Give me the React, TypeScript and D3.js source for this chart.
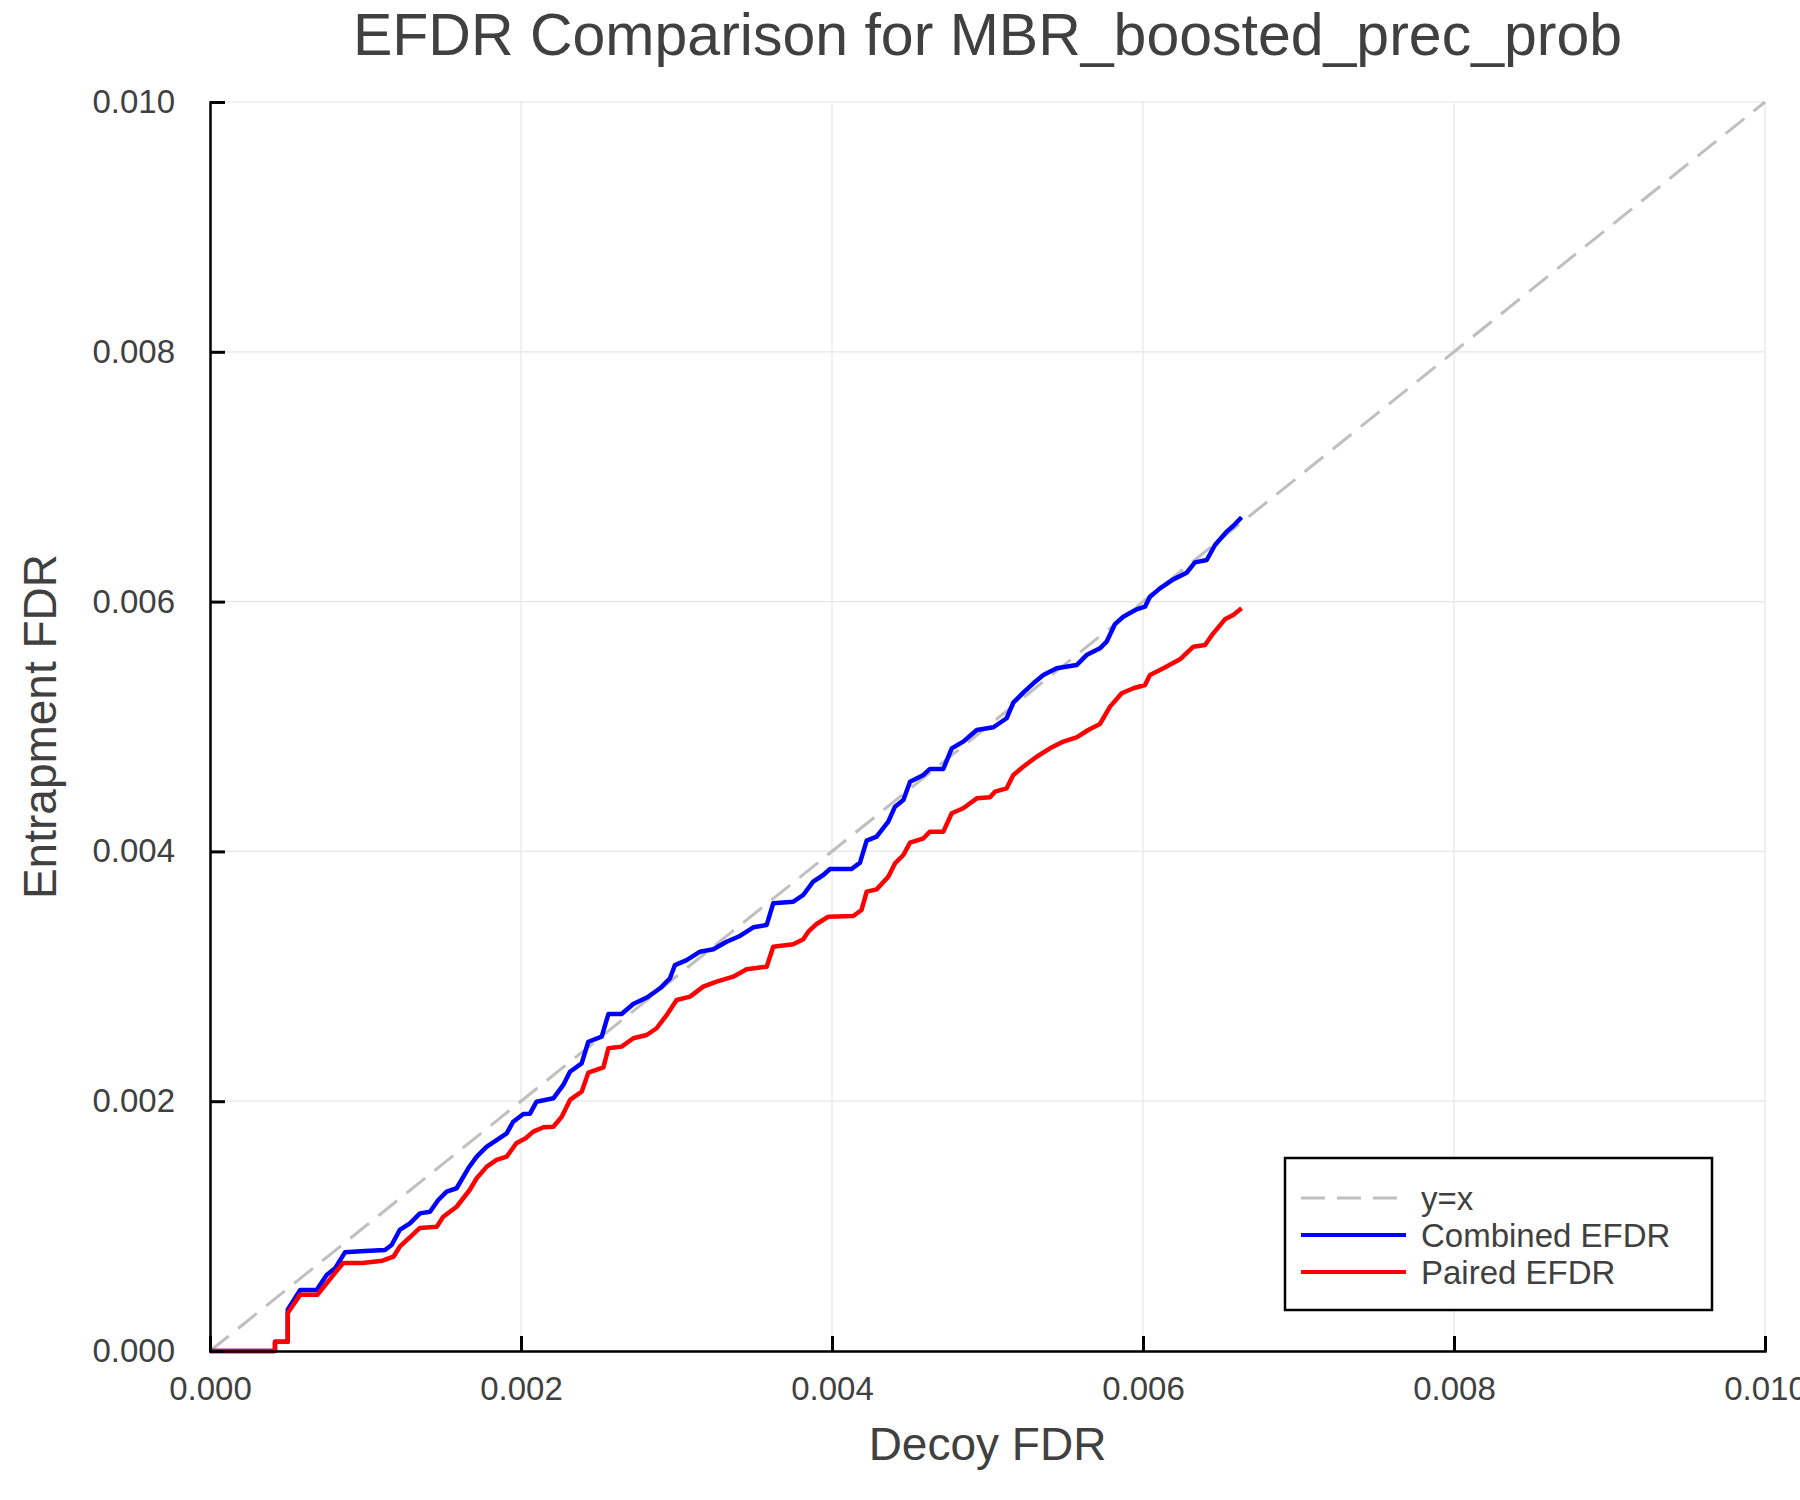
import * as d3 from "d3";
import { useEffect, useRef } from "react";

// Tick values shared by both axes
const tickValues = [0, 0.002, 0.004, 0.006, 0.008, 0.01];

// Combined EFDR curve: [decoy FDR, entrapment FDR]
const combinedEfdr: [number, number][] = [
  [0, 0], [0.000418, 0], [0.000418, 0.000075], [0.0005, 0.000075], [0.0005, 0.00033],
  [0.00058, 0.000488], [0.000686, 0.000488], [0.00075, 0.000608], [0.000804, 0.000662],
  [0.000868, 0.00079], [0.000997, 0.0008], [0.001125, 0.000809], [0.001168, 0.000849],
  [0.00122, 0.000969], [0.001286, 0.001022], [0.00135, 0.001102], [0.001415, 0.001115],
  [0.001468, 0.001209], [0.001522, 0.001276], [0.001586, 0.001303], [0.001661, 0.001463],
  [0.001715, 0.001556], [0.00178, 0.001636], [0.001843, 0.001689], [0.001908, 0.001743],
  [0.00195, 0.001836], [0.002015, 0.001897], [0.002058, 0.0019], [0.0021, 0.001996],
  [0.002208, 0.002023], [0.002272, 0.00213], [0.002315, 0.002236], [0.00239, 0.002303],
  [0.002433, 0.002476], [0.002519, 0.002517], [0.002562, 0.002698], [0.002647, 0.002698],
  [0.002722, 0.002778], [0.002819, 0.002837], [0.002894, 0.002904], [0.002958, 0.002984],
  [0.00299, 0.00309], [0.003065, 0.00313], [0.003151, 0.003197], [0.003237, 0.003216],
  [0.003322, 0.003277], [0.003408, 0.003323], [0.003494, 0.003392], [0.00358, 0.003411],
  [0.003622, 0.003584], [0.003751, 0.003597], [0.003815, 0.003651], [0.003879, 0.003758],
  [0.003944, 0.003811], [0.003987, 0.003859], [0.004126, 0.003859], [0.00418, 0.00391],
  [0.004223, 0.004086], [0.004287, 0.004118], [0.004362, 0.004238], [0.004405, 0.004358],
  [0.004459, 0.004412], [0.004502, 0.004558], [0.004588, 0.004612], [0.00463, 0.00466],
  [0.004716, 0.00466], [0.00477, 0.004825], [0.004844, 0.004879], [0.004931, 0.004972],
  [0.005038, 0.004994], [0.005123, 0.005066], [0.005166, 0.005191], [0.00523, 0.005271],
  [0.005295, 0.005346], [0.005359, 0.005412], [0.005445, 0.005466], [0.005573, 0.005492],
  [0.005637, 0.005572], [0.005723, 0.005626], [0.005766, 0.005679], [0.00582, 0.00582],
  [0.005873, 0.005879], [0.005959, 0.005938], [0.006013, 0.005959], [0.006045, 0.006039],
  [0.006109, 0.006106], [0.006195, 0.006178], [0.006281, 0.006231], [0.006334, 0.006314],
  [0.00641, 0.006333], [0.006463, 0.006453], [0.006538, 0.00656], [0.00658, 0.006605],
  [0.006634, 0.006675],
];

// Paired EFDR curve
const pairedEfdr: [number, number][] = [
  [0, 0], [0.000418, 0], [0.000418, 0.000075], [0.0005, 0.000075], [0.0005, 0.000304],
  [0.00058, 0.00045], [0.00069, 0.00045], [0.00082, 0.00065], [0.000857, 0.000704],
  [0.00098, 0.000704], [0.00111, 0.000723], [0.00118, 0.000755], [0.00122, 0.000835],
  [0.00129, 0.000915], [0.00135, 0.000985], [0.001458, 0.000995], [0.0015, 0.001075],
  [0.001586, 0.001155], [0.00167, 0.001289], [0.001715, 0.001383], [0.00178, 0.001476],
  [0.001843, 0.00153], [0.001908, 0.001556], [0.00197, 0.001663], [0.00203, 0.001703],
  [0.002079, 0.001756], [0.002144, 0.001791], [0.002208, 0.001796], [0.002262, 0.001876],
  [0.002315, 0.00201], [0.00239, 0.002076], [0.002433, 0.002228], [0.00253, 0.002271],
  [0.002562, 0.002424], [0.002647, 0.002437], [0.002722, 0.002504], [0.002808, 0.00253],
  [0.002872, 0.002584], [0.002937, 0.00269], [0.003001, 0.00281], [0.003087, 0.002837],
  [0.003172, 0.002917], [0.003258, 0.002957], [0.003365, 0.002997], [0.003451, 0.003056],
  [0.00358, 0.003077], [0.003622, 0.003237], [0.003751, 0.003256], [0.003815, 0.003296],
  [0.003848, 0.003357], [0.003901, 0.003419], [0.003976, 0.003477], [0.004137, 0.003483],
  [0.00419, 0.003531], [0.004223, 0.003678], [0.004287, 0.003696], [0.004362, 0.003797],
  [0.004405, 0.003904], [0.004459, 0.003971], [0.004502, 0.00407], [0.004588, 0.004105],
  [0.00463, 0.004158], [0.004716, 0.004158], [0.00477, 0.004305], [0.004844, 0.004345],
  [0.004931, 0.004425], [0.005016, 0.004433], [0.005048, 0.004478], [0.005123, 0.004505],
  [0.005166, 0.004612], [0.00523, 0.004678], [0.005316, 0.004758], [0.005402, 0.004825],
  [0.005488, 0.004879], [0.005573, 0.004913], [0.005648, 0.004972], [0.005723, 0.00502],
  [0.005788, 0.005159], [0.005863, 0.005266], [0.005938, 0.005306], [0.006013, 0.005332],
  [0.006045, 0.005412], [0.006131, 0.005466], [0.006238, 0.005538], [0.006324, 0.005639],
  [0.006399, 0.005652], [0.006452, 0.005746], [0.006527, 0.005858], [0.00658, 0.005893],
  [0.006634, 0.005946],
];

// Reference diagonal
const identityLine: [number, number][] = [[0, 0], [0.01, 0.01]];

const EfdrChart = () => {
  const svgRef = useRef<SVGSVGElement>(null);

  useEffect(() => {
    if (!svgRef.current) return;

    const svg = d3.select(svgRef.current);
    svg.selectAll("*").remove();

    const textColor = "#404040";
    const font = "'Liberation Sans', Arial, Helvetica, sans-serif";
    const margin = { top: 102, right: 35, bottom: 149, left: 210 };
    const width = 1800 - margin.left - margin.right;
    const height = 1500 - margin.top - margin.bottom;

    const x = d3.scaleLinear().domain([0, 0.01]).range([margin.left, margin.left + width]);
    const y = d3.scaleLinear().domain([0, 0.01]).range([margin.top + height, margin.top]);

    // Grid lines
    svg.append("g")
      .selectAll("line")
      .data(tickValues)
      .join("line")
      .attr("x1", d => x(d))
      .attr("x2", d => x(d))
      .attr("y1", y(0))
      .attr("y2", y(0.01))
      .attr("stroke", "#e6e6e6")
      .attr("stroke-width", 1.2);

    svg.append("g")
      .selectAll("line")
      .data(tickValues)
      .join("line")
      .attr("x1", x(0))
      .attr("x2", x(0.01))
      .attr("y1", d => y(d))
      .attr("y2", d => y(d))
      .attr("stroke", "#e6e6e6")
      .attr("stroke-width", 1.2);

    const line = d3.line<[number, number]>()
      .x(d => x(d[0]))
      .y(d => y(d[1]));

    // y = x
    svg.append("path")
      .datum(identityLine)
      .attr("d", line)
      .attr("fill", "none")
      .attr("stroke", "#bfbfbf")
      .attr("stroke-width", 3)
      .attr("stroke-dasharray", "24,12");

    svg.append("path")
      .datum(combinedEfdr)
      .attr("d", line)
      .attr("fill", "none")
      .attr("stroke", "#0000ff")
      .attr("stroke-width", 4.5)
      .attr("stroke-linejoin", "round");

    svg.append("path")
      .datum(pairedEfdr)
      .attr("d", line)
      .attr("fill", "none")
      .attr("stroke", "#ff0000")
      .attr("stroke-width", 4.5)
      .attr("stroke-linejoin", "round");

    // Axes (left and bottom spines with inward ticks)
    const xAxis = d3.axisBottom(x)
      .tickValues(tickValues)
      .tickSize(-15)
      .tickPadding(26)
      .tickFormat(d3.format(".3f"));
    const gx = svg.append("g")
      .attr("transform", `translate(0,${y(0)})`)
      .call(xAxis);
    gx.select(".domain").attr("stroke", "#000").attr("stroke-width", 2.5);
    gx.selectAll(".tick line").attr("stroke", "#000").attr("stroke-width", 3);
    gx.selectAll(".tick text")
      .attr("fill", textColor)
      .attr("font-size", 33)
      .attr("font-family", font)
      .attr("dy", "0.71em");

    const yAxis = d3.axisLeft(y)
      .tickValues(tickValues)
      .tickSize(-15)
      .tickPadding(35)
      .tickFormat(d3.format(".3f"));
    const gy = svg.append("g")
      .attr("transform", `translate(${x(0)},0)`)
      .call(yAxis);
    gy.select(".domain").attr("stroke", "#000").attr("stroke-width", 2.5);
    gy.selectAll(".tick line").attr("stroke", "#000").attr("stroke-width", 3);
    gy.selectAll(".tick text")
      .attr("fill", textColor)
      .attr("font-size", 33)
      .attr("font-family", font);

    // Title and axis labels
    svg.append("text")
      .attr("x", margin.left + width / 2)
      .attr("y", 55)
      .attr("text-anchor", "middle")
      .attr("fill", textColor)
      .attr("font-size", 59)
      .attr("font-family", font)
      .text("EFDR Comparison for MBR_boosted_prec_prob");

    svg.append("text")
      .attr("x", margin.left + width / 2)
      .attr("y", 1460)
      .attr("text-anchor", "middle")
      .attr("fill", textColor)
      .attr("font-size", 46)
      .attr("font-family", font)
      .text("Decoy FDR");

    svg.append("text")
      .attr("transform", `translate(56,${margin.top + height / 2}) rotate(-90)`)
      .attr("text-anchor", "middle")
      .attr("fill", textColor)
      .attr("font-size", 46)
      .attr("font-family", font)
      .text("Entrapment FDR");

    // Legend
    const legendItems = [
      { label: "y=x", color: "#bfbfbf", dash: "24,12", width: 3 },
      { label: "Combined EFDR", color: "#0000ff", dash: null, width: 4 },
      { label: "Paired EFDR", color: "#ff0000", dash: null, width: 4 },
    ];
    const legend = svg.append("g");
    legend.append("rect")
      .attr("x", 1285)
      .attr("y", 1158)
      .attr("width", 427)
      .attr("height", 152)
      .attr("fill", "#fff")
      .attr("stroke", "#000")
      .attr("stroke-width", 2.5);
    legendItems.forEach((item, i) => {
      const ly = 1198 + i * 37;
      legend.append("line")
        .attr("x1", 1301)
        .attr("x2", 1406)
        .attr("y1", ly)
        .attr("y2", ly)
        .attr("stroke", item.color)
        .attr("stroke-width", item.width)
        .attr("stroke-dasharray", item.dash);
      legend.append("text")
        .attr("x", 1421)
        .attr("y", ly)
        .attr("dominant-baseline", "central")
        .attr("fill", textColor)
        .attr("font-size", 33)
        .attr("font-family", font)
        .text(item.label);
    });
  }, []);

  return (
    <div style={{ position: "absolute", left: 0, top: 0, width: 1800, height: 1500, background: "#fff" }}>
      <svg ref={svgRef} width={1800} height={1500} />
    </div>
  );
};

export default function App() {
  return <EfdrChart />;
}
